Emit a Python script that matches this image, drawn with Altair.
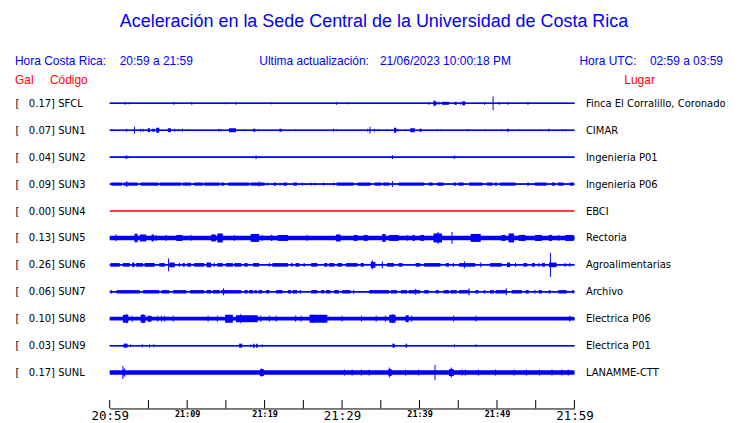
import json
import altair as alt
import pandas as pd

# ---------------- data ----------------
CODES = ["SFCL", "SUN1", "SUN2", "SUN3", "SUN4", "SUN5", "SUN6", "SUN7", "SUN8", "SUN9", "SUNL"]
GAL = [0.17, 0.07, 0.04, 0.09, 0.00, 0.13, 0.26, 0.06, 0.10, 0.03, 0.17]
PLACES = ["Finca El Corralillo, Coronado", "CIMAR", "Ingenieria P01", "Ingenieria P06", "EBCI",
          "Rectoria", "Agroalimentarias", "Archivo", "Electrica P06", "Electrica P01", "LANAMME-CTT"]
# half-width of the continuous background noise band of each trace
NOISE = [0.6, 0.6, 0.6, 0.7, 0.0, 2.3, 0.7, 0.8, 1.9, 0.6, 2.2]

# minutes after 20:59, half amplitude
SFCL_SPIKES = [(2.0, 1.5), (2.5, 1), (8.3, 1.5), (10.6, 1.5), (15.0, 1), (16.3, 1.5), (20.9, 1),
               (29.3, 1.5), (30.7, 1), (41.2, 1.5), (41.9, 3), (42.5, 1.5), (48.4, 1.5), (49.5, 7),
               (50.3, 1.5), (51.4, 1.5), (54.0, 1.5)]
SFCL_BURSTS = [(41.8, 42.2, 2), (42.9, 43.8, 1.5), (44.5, 44.8, 1.5), (45.2, 45.3, 1.5), (45.5, 45.9, 2)]

SUN1_SPIKES = [(0.3, 1), (2.2, 1.5), (3.2, 3.5), (4.0, 1.5), (4.3, 1.5), (8.4, 1.5), (8.9, 1), (9.4, 1.5),
               (10.1, 1), (14.1, 1.5), (14.4, 1), (17.4, 1), (19.2, 1), (24.0, 1), (28.9, 1.5), (29.3, 1),
               (33.3, 1.5), (33.6, 3.5), (34.2, 1.5), (34.7, 1), (35.8, 1), (37.2, 1.5), (38.2, 1),
               (42.3, 1), (42.8, 1), (46.1, 1), (46.3, 1), (48.5, 1), (50.6, 1), (52.8, 1), (55.5, 1),
               (56.7, 1.5), (58.4, 1), (58.8, 1)]
SUN1_BURSTS = [(4.9, 5.2, 2), (5.5, 5.8, 1.5), (6.0, 6.4, 2.5), (7.5, 7.9, 2), (15.4, 16.3, 2),
               (18.5, 18.8, 1.5), (21.9, 22.2, 1.5), (36.7, 37.0, 2.5), (38.8, 39.4, 2), (40.0, 40.3, 1.5),
               (51.3, 51.5, 1.5)]

SUN2_SPIKES = [(2.5, 1), (18.5, 1), (19.4, 1), (36.5, 2), (38.4, 0.8)]
SUN2_BURSTS = [(2.0, 2.3, 1.5), (18.8, 19.0, 1.5), (44.4, 44.6, 1.5)]

SUN3_SPIKES = [(2.2, 3), (19.3, 2.5), (20.4, 1.5), (22.0, 1.5), (24.9, 1.5), (26.0, 1.5), (26.5, 1.5),
               (27.6, 1.5), (28.9, 1.5), (36.5, 3)]
SUN3_BURSTS = [(0.2, 1.6, 1.6), (1.8, 3.6, 1.6), (4.0, 6.3, 1.6), (6.5, 9.2, 1.6), (9.4, 10.5, 1.6),
               (10.9, 12.0, 1.6), (12.2, 14.2, 1.6), (14.4, 14.8, 1.6), (15.3, 18.0, 1.6), (18.2, 20.0, 1.6),
               (21.2, 21.5, 1.6), (22.4, 22.9, 1.6), (23.7, 24.2, 1.6), (29.3, 31.5, 1.6), (32.0, 33.7, 1.6),
               (34.2, 35.1, 1.6), (35.3, 36.1, 1.6), (37.3, 40.6, 1.6), (41.2, 41.7, 1.6), (42.3, 43.1, 1.6),
               (44.4, 44.7, 1.6), (45.0, 45.7, 1.6), (46.4, 48.1, 1.6), (48.7, 49.4, 1.6), (49.7, 50.0, 1.6),
               (50.4, 52.4, 1.6), (53.9, 54.1, 1.6), (54.9, 56.4, 1.6), (57.1, 57.5, 1.6), (57.9, 58.6, 1.6),
               (59.4, 59.9, 1.6)]

SUN4_SPIKES = []
SUN4_BURSTS = []

SUN5_SPIKES = [(0.8, 3.5), (6.0, 3), (7.3, 3), (10.5, 3), (16.1, 3), (19.7, 3), (25.5, 3), (38.4, 3),
               (42.4, 6), (44.2, 6), (58.0, 3)]
SUN5_BURSTS = [(3.2, 3.6, 4.3), (3.9, 4.7, 3.5), (5.4, 5.7, 3.5), (8.6, 9.4, 3), (13.1, 13.7, 3.5),
               (13.9, 14.6, 4.5), (18.2, 19.3, 4), (20.8, 21.0, 3), (21.7, 23.0, 3), (29.2, 29.8, 3.5),
               (31.5, 32.0, 3), (32.8, 33.3, 3), (35.2, 35.6, 4), (36.1, 37.3, 3), (39.1, 39.4, 3),
               (40.1, 40.6, 3), (41.8, 42.9, 4.5), (46.6, 47.9, 4), (50.6, 51.1, 3), (51.5, 52.2, 4.5),
               (52.8, 53.7, 3), (54.9, 55.8, 3), (56.7, 57.1, 3), (58.8, 59.9, 3)]

SUN6_SPIKES = [(7.6, 6.5), (9.0, 2), (13.5, 2), (20.6, 2), (25.1, 2), (33.9, 4.5), (35.2, 3.5), (44.4, 2),
               (45.8, 3.5), (47.9, 2.5), (52.4, 2), (55.4, 2), (56.9, 12), (58.8, 2), (59.4, 2)]
SUN6_BURSTS = [(0.1, 1.3, 1.8), (1.7, 2.6, 1.8), (2.9, 3.2, 2.3), (3.4, 4.3, 1.8), (4.5, 5.8, 1.8),
               (6.4, 7.1, 1.8), (7.7, 8.4, 2.3), (9.4, 9.7, 1.8), (10.0, 10.5, 1.8), (10.9, 12.2, 1.8),
               (12.5, 13.1, 2.3), (13.9, 14.6, 1.8), (15.0, 15.9, 1.8), (16.1, 17.0, 1.8), (17.4, 17.8, 1.8),
               (18.5, 19.3, 1.8), (21.0, 23.0, 1.8), (23.4, 23.6, 1.8), (24.0, 24.5, 1.8), (26.0, 26.8, 1.8),
               (27.7, 28.1, 1.8), (28.3, 29.0, 1.8), (29.4, 30.0, 1.8), (30.5, 32.0, 1.8), (32.4, 32.8, 1.8),
               (33.7, 34.3, 3), (35.8, 36.7, 1.8), (37.3, 37.8, 1.8), (39.5, 40.1, 1.8), (40.6, 42.7, 1.8),
               (43.4, 43.8, 1.8), (45.1, 47.2, 1.8), (49.1, 50.6, 1.8), (51.3, 51.7, 2.3), (53.4, 53.9, 1.8),
               (54.5, 54.9, 1.8), (55.8, 56.2, 1.8), (56.7, 57.7, 2.3)]

SUN7_SPIKES = [(14.7, 3.5), (31.5, 2), (39.5, 3), (46.4, 3.5), (51.2, 3.5), (54.9, 2)]
SUN7_BURSTS = [(0.1, 0.3, 1.7), (0.9, 3.9, 1.7), (4.3, 6.4, 1.7), (6.7, 7.7, 1.7), (8.2, 9.9, 1.7),
               (10.4, 12.2, 1.7), (12.5, 13.1, 1.7), (13.3, 14.2, 1.7), (14.4, 17.0, 1.7), (17.4, 17.8, 1.7),
               (18.0, 18.5, 1.7), (18.7, 19.0, 1.7), (19.2, 19.7, 1.7), (20.2, 20.6, 1.7), (21.5, 22.3, 1.7),
               (23.0, 23.4, 1.7), (23.6, 24.2, 1.7), (24.5, 24.7, 1.7), (26.0, 26.8, 1.7), (27.3, 27.7, 1.7),
               (27.9, 28.5, 1.7), (29.0, 29.6, 1.7), (30.0, 31.1, 1.7), (33.5, 36.1, 1.7), (36.3, 37.1, 1.7),
               (37.6, 38.4, 1.7), (38.6, 40.1, 1.7), (40.6, 41.2, 1.7), (42.1, 42.5, 1.7), (43.1, 43.8, 1.7),
               (44.0, 44.8, 1.7), (45.1, 46.4, 1.7), (47.2, 47.6, 1.7), (48.3, 48.5, 1.7), (49.1, 49.6, 1.7),
               (49.8, 51.3, 1.7), (51.9, 53.2, 1.7), (53.7, 54.1, 1.7), (55.4, 55.8, 1.7), (56.7, 56.9, 1.7),
               (57.9, 59.0, 1.7), (59.7, 59.9, 1.7)]

SUN8_SPIKES = [(2.2, 4.5), (2.9, 3), (4.3, 4.5), (6.2, 3), (6.7, 3), (7.1, 3), (8.2, 3), (12.7, 3), (13.9, 3),
               (16.9, 4.5), (19.5, 3), (20.6, 3), (21.5, 3), (24.0, 3), (24.7, 3), (26.2, 4), (30.0, 3),
               (32.5, 3), (34.4, 3), (35.6, 3), (36.5, 4.5), (39.0, 3), (44.4, 3), (47.3, 3), (59.4, 3)]
SUN8_BURSTS = [(1.7, 2.4, 4), (4.0, 4.6, 4), (4.9, 5.4, 3), (14.9, 15.9, 4), (16.3, 19.1, 3.5),
               (25.8, 28.1, 4), (36.1, 36.9, 4), (38.2, 38.6, 3.5)]

SUN9_SPIKES = [(2.7, 1.5), (4.2, 1.5), (5.7, 1.5), (18.2, 1.5), (19.7, 1.5), (44.5, 1.5), (47.3, 1.5)]
SUN9_BURSTS = [(1.8, 2.3, 2), (5.1, 5.2, 2), (16.7, 17.1, 2), (18.5, 18.7, 2), (18.9, 19.1, 2),
               (36.5, 36.8, 2), (38.2, 38.4, 2)]

SUNL_SPIKES = [(1.7, 6.5), (19.6, 4), (30.3, 3), (31.3, 3), (32.5, 3), (33.5, 3), (36.1, 5), (38.2, 3),
               (39.9, 3), (42.0, 7.7), (44.1, 5), (45.5, 3), (45.9, 3), (47.6, 3), (49.8, 3), (52.2, 3),
               (53.8, 3), (55.5, 3), (57.1, 3), (58.4, 3), (59.2, 3)]
SUNL_BURSTS = [(1.8, 2.0, 4), (19.4, 19.9, 3.5), (36.0, 36.4, 3.5), (43.8, 44.4, 3.5)]

TICK_MINUTES = [0, 5, 10, 15, 20, 25, 30, 35, 40, 45, 50, 55, 60]
TICK_LABELS = ["20:59", "", "21:09", "", "21:19", "", "21:29", "", "21:39", "", "21:49", "", "21:59"]

TITLE = "Aceleración en la Sede Central de la Universidad de Costa Rica"
HDR_CR = "Hora Costa Rica:"
HDR_CR_RANGE = "20:59 a 21:59"
HDR_UPD = "Ultima actualización:"
HDR_UPD_VAL = "21/06/2023 10:00:18 PM"
HDR_UTC = "Hora UTC:"
HDR_UTC_RANGE = "02:59 a 03:59"
COL_GAL = "Gal"
COL_CODE = "Código"
COL_PLACE = "Lugar"

# ---------------- layout constants ----------------
ROW = 27          # vertical distance between traces, in y-scale units (1 unit = 1 px)
AXIS_Y = 306      # y value of the time axis line
TICK_LEN = 8.5
START, END = 0, 60
BLUE = "#0000ff"
RED = "#ff0000"

SPIKES = [SFCL_SPIKES, SUN1_SPIKES, SUN2_SPIKES, SUN3_SPIKES, SUN4_SPIKES, SUN5_SPIKES,
          SUN6_SPIKES, SUN7_SPIKES, SUN8_SPIKES, SUN9_SPIKES, SUNL_SPIKES]
BURSTS = [SFCL_BURSTS, SUN1_BURSTS, SUN2_BURSTS, SUN3_BURSTS, SUN4_BURSTS, SUN5_BURSTS,
          SUN6_BURSTS, SUN7_BURSTS, SUN8_BURSTS, SUN9_BURSTS, SUNL_BURSTS]

stations = pd.DataFrame({"code": CODES, "gal": GAL, "place": PLACES, "noise": NOISE,
                         "row": list(range(len(CODES)))})
stations["x0"] = START
stations["x1"] = END

spk = pd.DataFrame([{"row": i, "t": t, "amp": a} for i, lst in enumerate(SPIKES) for (t, a) in lst])
brs = pd.DataFrame([{"row": i, "t0": t0, "t1": t1, "amp": a}
                    for i, lst in enumerate(BURSTS) for (t0, t1, a) in lst])
ticks = pd.DataFrame({"t": TICK_MINUTES})

xs = alt.Scale(domain=[START, END], nice=False, zero=False)
ys = alt.Scale(domain=[-ROW, AXIS_Y], reverse=True, nice=False, zero=False)

left_labels = [f"[\u00a0\u00a0\u00a0{g:.2f}] {c}" for g, c in zip(GAL, CODES)]
row_values = [i * ROW for i in range(len(CODES))]

x_axis = alt.Axis(
    values=TICK_MINUTES,
    labelExpr=f"{json.dumps(TICK_LABELS)}[round(datum.value / 5)]",
    ticks=False, tickSize=0, grid=False, domain=True, domainColor="black", domainWidth=1,
    labelFont="DejaVu Sans Mono",
    labelFontSize={"condition": {"test": "datum.value % 30 === 0", "value": 12.5}, "value": 8.5},
    labelFontWeight={"condition": {"test": "datum.value % 30 === 0", "value": "normal"}, "value": "bold"},
    labelColor="black", labelFlush=False, labelPadding=1, labelBaseline="top",
    labelOverlap=False, title=None,
)
left_axis = alt.Axis(
    orient="left", values=row_values,
    labelExpr=f"{json.dumps(left_labels, ensure_ascii=False)}[round(datum.value / {ROW})]",
    domain=False, ticks=False, tickSize=0, grid=False, labelAlign="left", labelPadding=95,
    labelFont="DejaVu Sans", labelFontSize=10, labelColor="black", labelBaseline="middle",
    labelOverlap=False, title=None,
)
right_axis = alt.Axis(
    orient="right", values=row_values,
    labelExpr=f"{json.dumps(PLACES, ensure_ascii=False)}[round(datum.value / {ROW})]",
    domain=False, ticks=False, tickSize=0, grid=False, labelAlign="left", labelPadding=11,
    labelFont="DejaVu Sans", labelFontSize=10, labelColor="black", labelBaseline="middle",
    labelOverlap=False, labelLimit=300, title=None,
)

# baseline of every trace (carries the time axis and the left-hand labels)
base = alt.Chart(stations).transform_calculate(yc=f"datum.row * {ROW}").mark_rule(strokeWidth=1.5).encode(
    x=alt.X("x0:Q", scale=xs, axis=x_axis),
    x2="x1:Q",
    y=alt.Y("yc:Q", scale=ys, axis=left_axis),
    color=alt.condition("datum.gal == 0", alt.value(RED), alt.value(BLUE)),
)

# continuous noise band (also carries the right-hand axis)
noise = alt.Chart(stations).transform_calculate(
    ylo=f"datum.row * {ROW} - datum.noise", yhi=f"datum.row * {ROW} + datum.noise"
).mark_rect(color=BLUE).encode(
    x=alt.X("x0:Q", scale=xs, axis=None), x2="x1:Q",
    y=alt.Y("ylo:Q", scale=ys, axis=right_axis), y2="yhi:Q",
)

bursts = alt.Chart(brs).transform_calculate(
    ylo=f"datum.row * {ROW} - datum.amp", yhi=f"datum.row * {ROW} + datum.amp"
).mark_rect(color=BLUE).encode(
    x=alt.X("t0:Q", scale=xs, axis=None), x2="t1:Q",
    y=alt.Y("ylo:Q", scale=ys, axis=None), y2="yhi:Q",
)

spikes = alt.Chart(spk).transform_calculate(
    ylo=f"datum.row * {ROW} - datum.amp", yhi=f"datum.row * {ROW} + datum.amp"
).mark_rule(color=BLUE, strokeWidth=1).encode(
    x=alt.X("t:Q", scale=xs, axis=None),
    y=alt.Y("ylo:Q", scale=ys, axis=None), y2="yhi:Q",
)

tick_marks = alt.Chart(ticks).transform_calculate(
    ty=f"{AXIS_Y - TICK_LEN}", ty2=f"{AXIS_Y}"
).mark_rule(color="black", strokeWidth=1).encode(
    x=alt.X("t:Q", scale=xs, axis=None),
    y=alt.Y("ty:Q", scale=ys, axis=None), y2="ty2:Q",
)


def label(text, x, y, color=BLUE, size=12, align="left", font="Liberation Sans"):
    return alt.Chart(alt.Data(values=[{"s": text}])).mark_text(
        align=align, baseline="middle", font=font, fontSize=size, color=color
    ).encode(text="s:N", x=alt.value(x), y=alt.value(y))


texts = [
    label(TITLE, 265, -55, size=18, align="center"),
    label(HDR_CR, -95, -15),
    label(HDR_CR_RANGE, 10, -15),
    label(HDR_UPD, 150, -15),
    label(HDR_UPD_VAL, 271, -15),
    label(HDR_UTC, 471, -15),
    label(HDR_UTC_RANGE, 615, -15, align="right"),
    label(COL_GAL, -95, 4, color=RED),
    label(COL_CODE, -60, 4, color=RED),
    label(COL_PLACE, 516, 4, color=RED),
]

chart = alt.layer(base, noise, bursts, spikes, tick_marks, *texts).resolve_axis(
    x="independent", y="independent"
).properties(
    width=466, height=333,
    autosize=alt.AutoSizeParams(type="none"),
    padding={"left": 102, "top": 68, "right": 158, "bottom": 16},
    background="white",
).configure_view(stroke=None)

chart.save("out.html", embed_options={"renderer": "svg", "actions": False})
